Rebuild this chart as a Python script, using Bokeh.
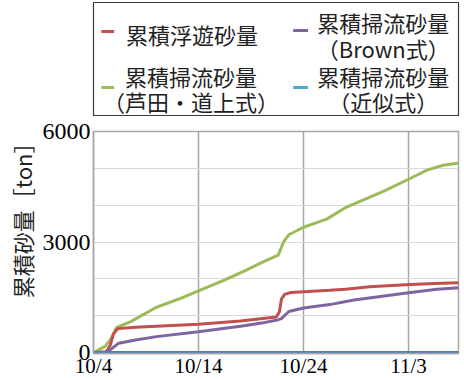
from bokeh.plotting import figure
from bokeh.layouts import column
from bokeh.models import Range1d, FixedTicker, Title
from bokeh.core.properties import value
from bokeh.embed import file_html
from bokeh.resources import INLINE

# days since 10/4
tick_days = [0, 10, 20, 30]
tick_labels = ["10/4", "10/14", "10/24", "11/3"]
y_ticks = [0, 3000, 6000]
y_grid = [1000, 2000, 3000, 4000, 5000]

# 累積浮遊砂量
red_days = [0, 1.2, 1.6, 1.9, 2.3, 4, 6, 10, 14, 17.4, 17.7, 17.9, 18.2, 18.8, 20, 22.5, 24, 26.3, 28, 30.2, 32.5, 34.8]
red_vals = [0, 20, 200, 500, 650, 690, 717, 771, 858, 965, 1100, 1450, 1580, 1630, 1650, 1690, 1720, 1788, 1815, 1850, 1875, 1895]

# 累積掃流砂量 (Brown式)
purple_days = [0, 1.3, 1.8, 2.4, 4, 6, 10, 14, 16, 17.6, 17.9, 18.6, 20, 22.5, 24.8, 27.5, 30.2, 32.7, 34.8]
purple_vals = [0, 10, 120, 255, 340, 433, 566, 717, 800, 893, 920, 1116, 1212, 1302, 1425, 1530, 1629, 1717, 1762]

# 累積掃流砂量 (芦田・道上式)
green_days = [0, 1.1, 1.6, 2.2, 3.5, 6, 8.3, 10, 12.4, 14.3, 16.2, 17.6, 18.1, 18.6, 20, 22.2, 24.1, 27.6, 30, 31.75, 33.3, 34.8]
green_vals = [0, 167, 345, 681, 832, 1230, 1470, 1674, 1957, 2206, 2471, 2648, 3003, 3197, 3401, 3622, 3949, 4374, 4704, 4951, 5084, 5145]

# 累積掃流砂量 (近似式)
blue_days = [0, 10, 20, 30, 34.8]
blue_vals = [0, 0, 0, 0, 0]

series_names = ["累積浮遊砂量", "累積掃流砂量\n（Brown式）", "累積掃流砂量\n（芦田・道上式）", "累積掃流砂量\n（近似式）"]
line_colors = ["#c0504d", "#8064a2", "#9bbb59", "#4a7ebb"]
key_colors = ["#c0504d", "#8064a2", "#9bbb59", "#4bacc6"]

SERIF = "Liberation Serif, DejaVu Serif, serif"
CJK = "Noto Sans CJK JP"

# ---------------- chart ----------------
p = figure(width=464, height=264, output_backend="svg", toolbar_location=None,
           x_range=Range1d(0, 34.76), y_range=Range1d(-25, 6000),
           min_border_left=93, min_border_right=6, min_border_top=15, min_border_bottom=18,
           background_fill_color="white", border_fill_color="white")

p.outline_line_color = "#a6a6a6"
p.outline_line_width = 1.5

p.line(green_days, green_vals, line_color=line_colors[2], line_width=3)
p.line(red_days, red_vals, line_color=line_colors[0], line_width=3)
p.line(purple_days, purple_vals, line_color=line_colors[1], line_width=3)
p.line(blue_days, blue_vals, line_color=line_colors[3], line_width=3)

p.xaxis.ticker = FixedTicker(ticks=tick_days)
p.xaxis.major_label_overrides = {d: l for d, l in zip(tick_days, tick_labels)}
p.yaxis.ticker = FixedTicker(ticks=y_ticks)
p.xgrid.ticker = FixedTicker(ticks=tick_days)
p.ygrid.ticker = FixedTicker(ticks=y_grid)
p.xgrid.grid_line_color = "#a6a6a6"
p.xgrid.grid_line_width = 1.5
p.ygrid.grid_line_color = "#d9d9d9"
p.ygrid.grid_line_width = 1

for ax in (p.xaxis[0], p.yaxis[0]):
    ax.axis_line_color = "#a6a6a6"
    ax.axis_line_width = 1.5
    ax.major_tick_line_color = None
    ax.minor_tick_line_color = None
    ax.major_tick_out = 0
    ax.major_tick_in = 0
    ax.minor_tick_out = 0
    ax.major_label_text_font = SERIF
    ax.major_label_text_color = "black"
p.yaxis.major_label_text_font_size = "24px"
p.yaxis.major_label_standoff = 3
p.xaxis.major_label_text_font_size = "21px"
p.xaxis.major_label_standoff = 0

p.add_layout(Title(text="累積砂量［ton］", text_font=CJK, text_font_size="22px",
                   text_font_style="normal", text_color="#222222", align="right", standoff=3), "left")

# ---------------- legend (its own panel above the chart) ----------------
lg = figure(width=464, height=116, output_backend="svg", toolbar_location=None,
            x_range=Range1d(0, 371), y_range=Range1d(113, 0),
            x_axis_location=None, y_axis_location=None,
            min_border_left=87, min_border_right=6, min_border_top=2, min_border_bottom=1,
            outline_line_color="#3a3a3a", outline_line_width=1.2,
            background_fill_color="white", border_fill_color="white")
lg.grid.visible = False

# legend layout (pixel positions inside the legend box)
key_x0 = [8, 203, 8, 203]
key_x1 = [21, 218, 21, 218]
key_y = [29, 28, 85, 85]
label_cx = [100, 294.5, 99, 294.5]
label_cy = [[31], [19, 45.5], [73.5, 98.5], [73.5, 98.5]]

lg.segment(x0=key_x0, y0=key_y, x1=key_x1, y1=key_y, line_color=key_colors, line_width=3)

tx, ty, tt = [], [], []
for name, cx, cys in zip(series_names, label_cx, label_cy):
    for line, cy in zip(name.split("\n"), cys):
        tx.append(cx)
        ty.append(cy)
        tt.append(line)
lg.text(x=tx, y=ty, text=tt, text_align="center", text_baseline="middle",
        text_font=value(CJK), text_font_size="22px", text_color="#222222")

layout = column(lg, p, spacing=0)
open("out.html", "w").write(file_html(layout, INLINE))
